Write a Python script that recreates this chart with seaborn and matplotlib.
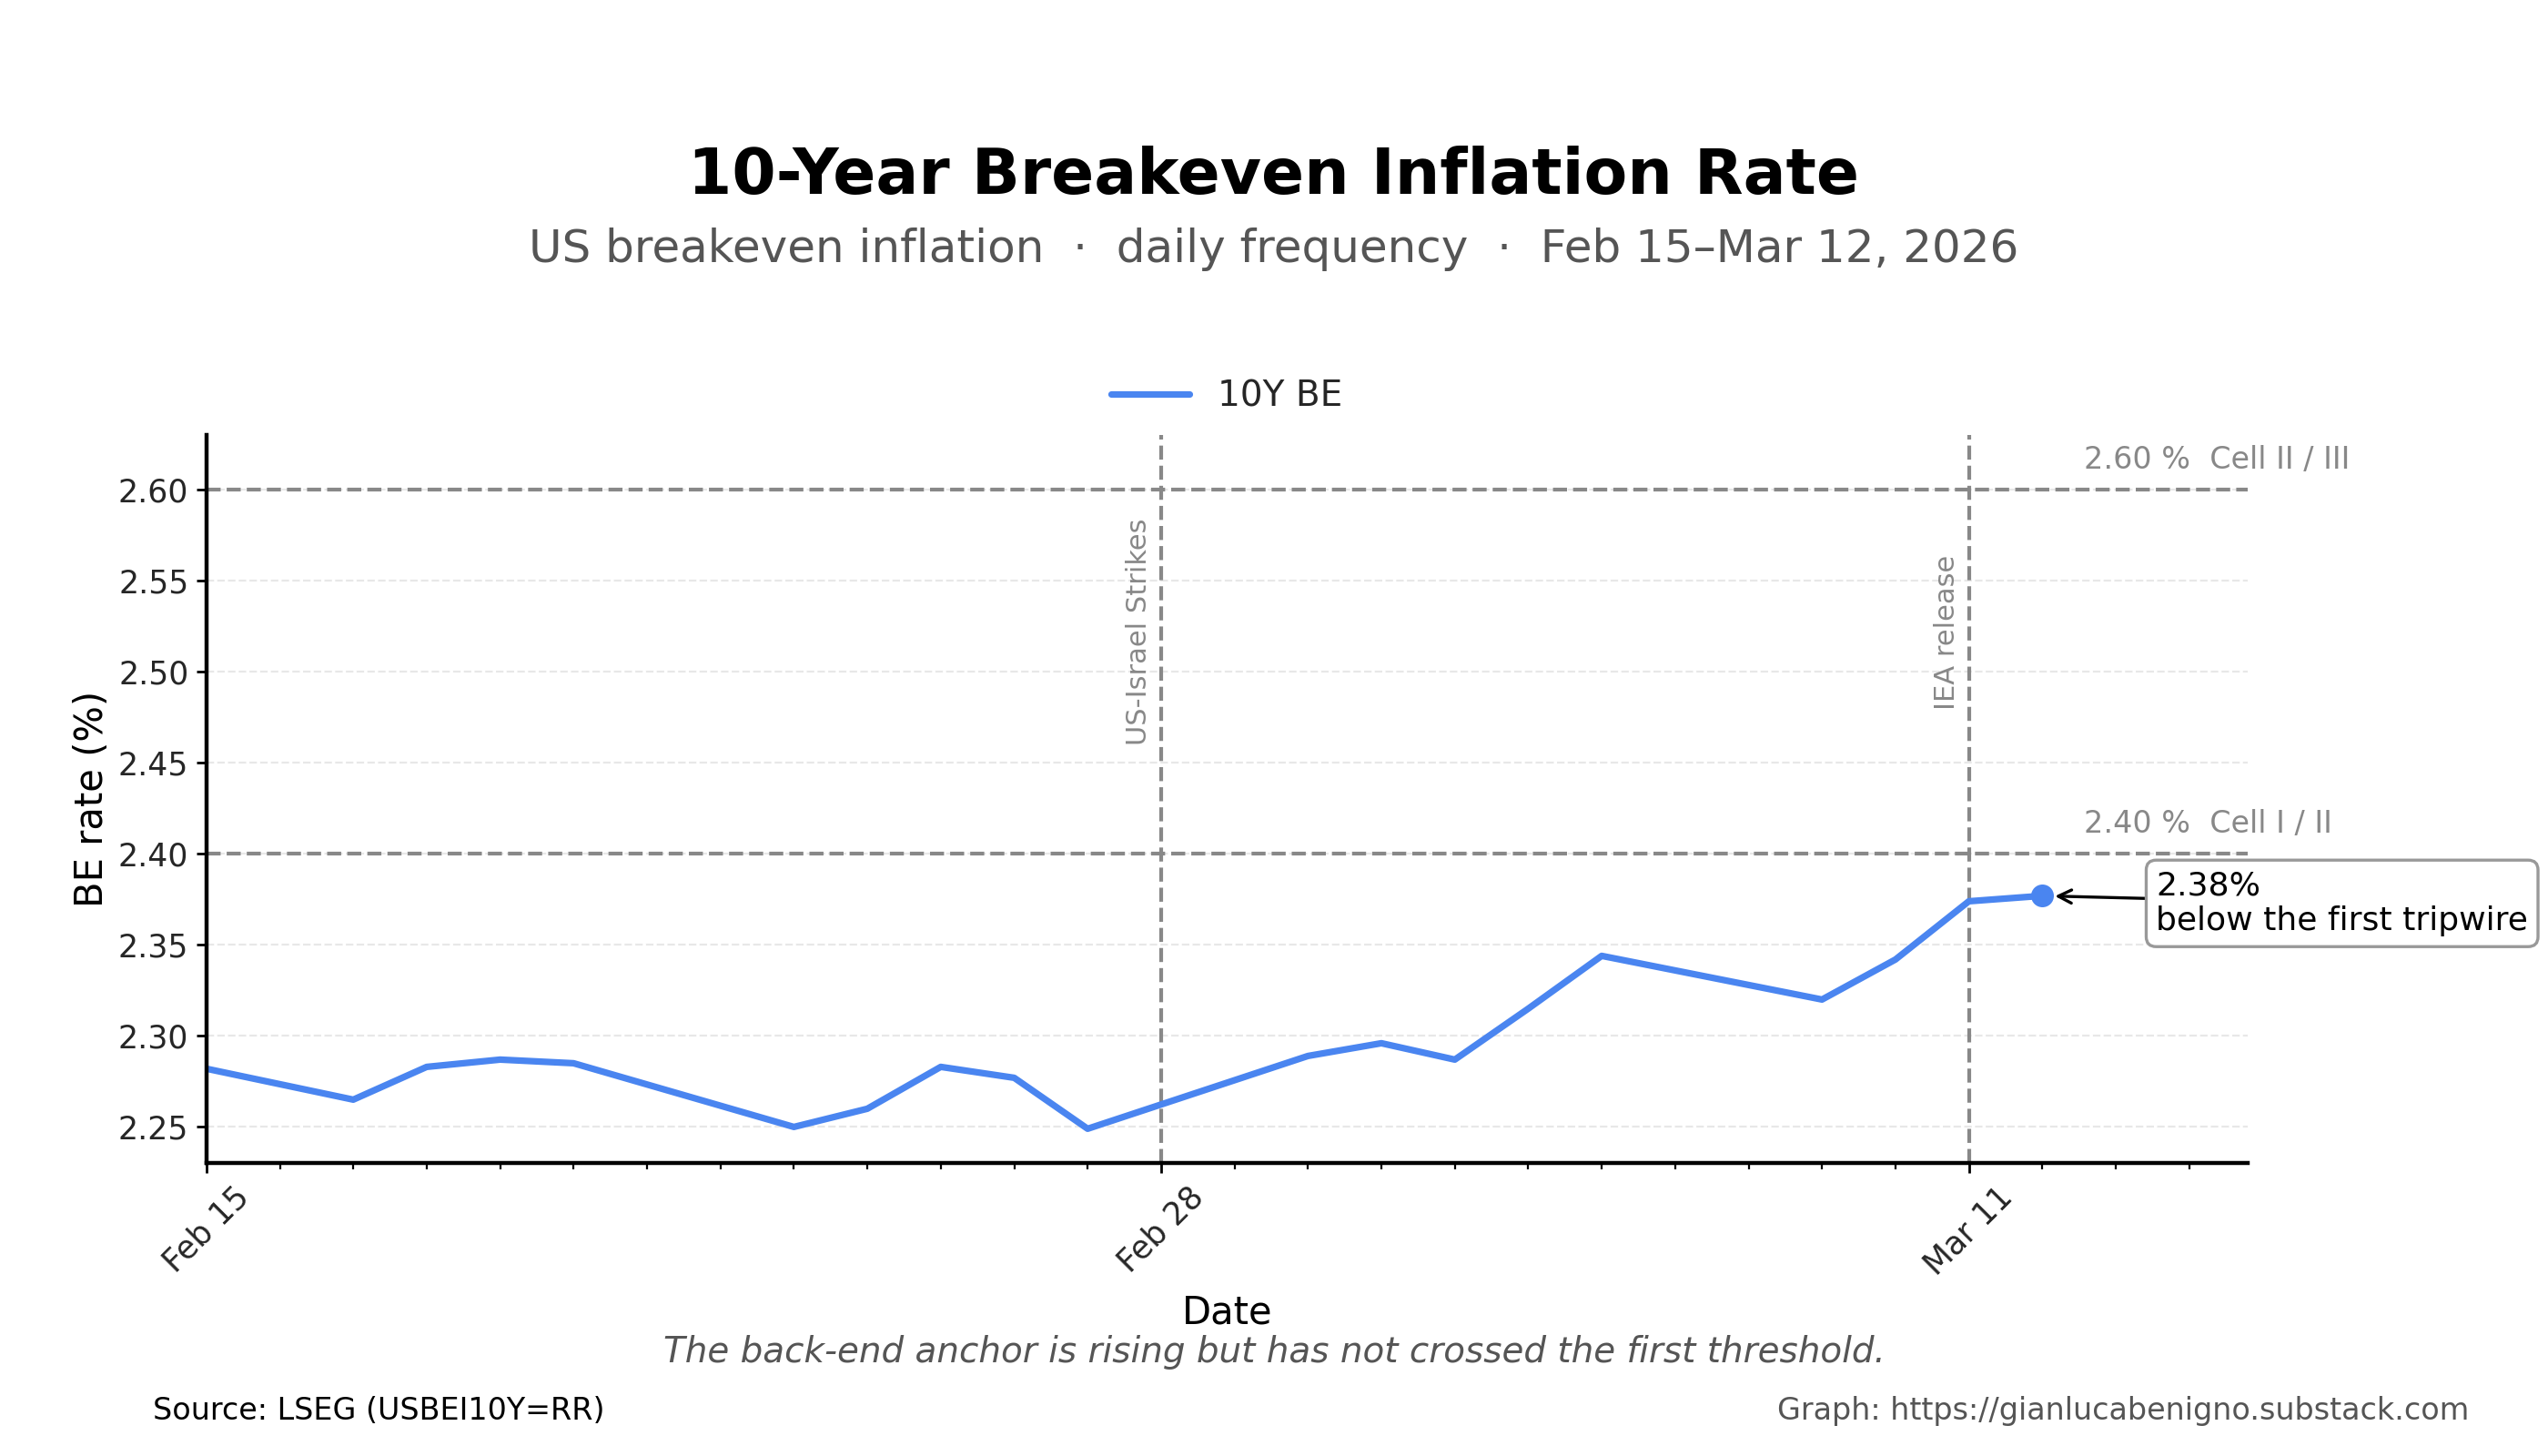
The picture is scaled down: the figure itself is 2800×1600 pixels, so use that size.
import matplotlib
matplotlib.use("Agg")
import matplotlib.pyplot as plt
import matplotlib.dates as mdates
import matplotlib.transforms as mtransforms
import seaborn as sns
import pandas as pd

# ---- data ----
dates = ["2026-02-15", "2026-02-17", "2026-02-18", "2026-02-19", "2026-02-20",
         "2026-02-23", "2026-02-24", "2026-02-25", "2026-02-26", "2026-02-27",
         "2026-03-02", "2026-03-03", "2026-03-04", "2026-03-05", "2026-03-06",
         "2026-03-09", "2026-03-10", "2026-03-11", "2026-03-12"]
be_values = [2.282, 2.265, 2.283, 2.287, 2.285,
             2.250, 2.260, 2.283, 2.277, 2.249,
             2.289, 2.296, 2.287, 2.315, 2.344,
             2.320, 2.342, 2.374, 2.377]
series_name = "10Y BE"
thresholds = [2.40, 2.60]
threshold_labels = ["2.40 %  Cell I / II", "2.60 %  Cell II / III"]
event_dates = ["2026-02-28", "2026-03-11"]
event_labels = ["US-Israel Strikes", "IEA release"]
major_tick_dates = ["2026-02-15", "2026-02-28", "2026-03-11"]

df = pd.DataFrame({"Date": pd.to_datetime(dates), "BE": be_values})

sns.set_theme(style="white")
plt.rcParams['font.family'] = ['DejaVu Sans']

fig = plt.figure(figsize=(14, 8), dpi=200)
ax = fig.add_axes([0.081, 0.201, 0.801, 0.500])

blue = "#4A85F0"
sns.lineplot(data=df, x="Date", y="BE", ax=ax, color=blue, linewidth=2.6,
             label=series_name)

# last point marker
last = df.iloc[-1]
ax.plot([last["Date"]], [last["BE"]], "o", color=blue, markersize=8, zorder=5)

# thresholds
for t, lab in zip(thresholds, threshold_labels):
    ax.axhline(t, color="#888888", linestyle="--", linewidth=1.5, zorder=1)
    ax.text(0.92, t + 0.008, lab, transform=mtransforms.blended_transform_factory(ax.transAxes, ax.transData),
            ha="left", va="bottom", fontsize=12, color="#888888")

# events
for d, lab in zip(event_dates, event_labels):
    dt = pd.Timestamp(d)
    ax.axvline(dt, color="#888888", linestyle="--", linewidth=1.5, zorder=1)
    ax.text(dt - pd.Timedelta(hours=3), 2.522, lab, rotation=90, ha="right", va="center",
            fontsize=11, color="#888888")

# annotation
ax.annotate(f"{last['BE']:.2f}%\nbelow the first tripwire",
            xy=(last["Date"], last["BE"]), xytext=(45, -3), textcoords="offset points",
            ha="left", va="center", fontsize=13, color="black",
            arrowprops=dict(arrowstyle="->", color="black", lw=1.2, shrinkA=0, shrinkB=5),
            bbox=dict(boxstyle="round,pad=0.3", fc="white", ec="#999999", lw=1.2),
            annotation_clip=False)

# axes limits & ticks
ax.set_xlim(pd.Timestamp("2026-02-15"), pd.Timestamp("2026-03-14 19:00"))
ax.set_ylim(2.23, 2.63)
ax.set_xticks(pd.to_datetime(major_tick_dates))
ax.xaxis.set_major_formatter(mdates.DateFormatter("%b %d"))
ax.xaxis.set_minor_locator(mdates.DayLocator())
ax.set_yticks([2.25, 2.30, 2.35, 2.40, 2.45, 2.50, 2.55, 2.60])
ax.yaxis.set_major_formatter(matplotlib.ticker.FormatStrFormatter("%.2f"))
for lbl in ax.get_xticklabels():
    lbl.set_rotation(45)
    lbl.set_ha("center")
ax.tick_params(axis="both", which="major", labelsize=12.5, length=4, width=1.0,
               bottom=True, left=True, color="black", pad=3)
ax.tick_params(axis="x", which="minor", length=2.5, width=0.8, bottom=True, color="black")

ax.grid(axis="y", linestyle="--", color="#e8e8e8", linewidth=0.8)
ax.grid(axis="x", visible=False)
for s in ["top", "right"]:
    ax.spines[s].set_visible(False)
for s in ["left", "bottom"]:
    ax.spines[s].set_color("black")
    ax.spines[s].set_linewidth(1.6)

ax.set_xlabel("Date", fontsize=15, color="black", labelpad=5)
ax.set_ylabel("BE rate (%)", fontsize=15, color="black", labelpad=3)

leg = ax.legend(loc="center", bbox_to_anchor=(0.5, 1.054), frameon=False, fontsize=14,
                handlelength=2.2)
for h in leg.get_lines():
    h.set_linewidth(2.6)

# titles and notes
fig.text(0.5, 0.879, "10-Year Breakeven Inflation Rate", ha="center", va="center",
         fontsize=25, fontweight="bold", color="black")
fig.text(0.5, 0.829, "US breakeven inflation  ·  daily frequency  ·  Feb 15–Mar 12, 2026",
         ha="center", va="center", fontsize=18, color="#555555")
fig.text(0.5, 0.071, "The back-end anchor is rising but has not crossed the first threshold.",
         ha="center", va="center", fontsize=14, style="italic", color="#555555")
fig.text(0.060, 0.031, "Source: LSEG (USBEI10Y=RR)", ha="left", va="center",
         fontsize=12, color="black")
fig.text(0.969, 0.031, "Graph: https://gianlucabenigno.substack.com", ha="right", va="center",
         fontsize=12, color="#555555")

fig.savefig("out.png", dpi=200, facecolor="white")
